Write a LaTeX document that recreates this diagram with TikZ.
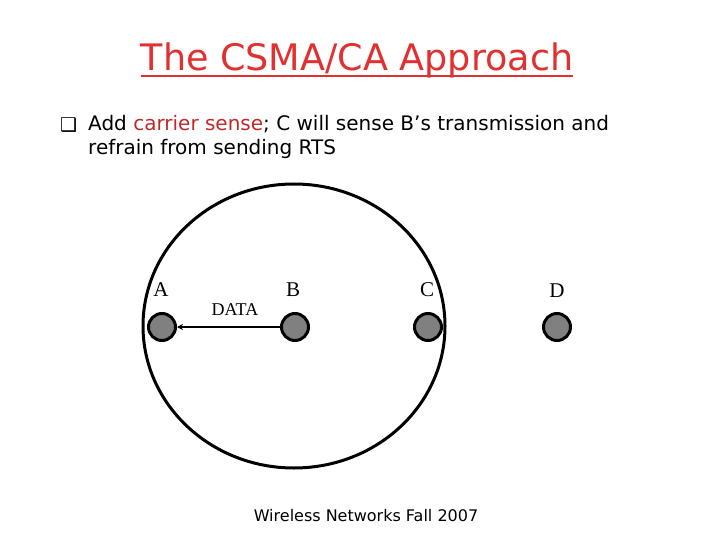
\documentclass[tikz,border=0pt]{standalone}
\usepackage{fontspec}
\setmainfont{DejaVu Sans}
\newfontfamily\serifface{Liberation Serif}
\usetikzlibrary{arrows.meta,shapes.geometric}
\definecolor{titlered}{RGB}{226,48,48}
\definecolor{nodegray}{RGB}{128,128,128}
\tikzset{
  station/.style={circle,draw=black,line width=3pt,fill=nodegray,minimum size=27pt,inner sep=0pt},
  lbl/.style={font=\serifface\fontsize{21}{21}\selectfont,inner sep=0pt},
}
\begin{document}
\begin{tikzpicture}[x=1pt,y=-1pt]
\useasboundingbox (0,0) rectangle (720,540);
\node[font=\fontsize{36.5}{36.5}\selectfont,text=titlered,inner sep=0pt,anchor=base] (title) at (357,71) {The CSMA/CA Approach};
\draw[titlered,line width=1.8pt] ([yshift=-5pt]title.base west) -- ([yshift=-5pt]title.base east);
\node[anchor=base west,inner sep=0pt,font=\fontsize{19}{19}\selectfont] (bul) at (60,132) {❑};
\node[anchor=base west,inner sep=0pt,font=\fontsize{20}{20}\selectfont] (l1) at (88,131) {Add \textcolor{titlered!85!black}{carrier sense}; C will sense B’s transmission and};
\node[anchor=base west,inner sep=0pt,font=\fontsize{20}{20}\selectfont] (l2) at (88,155) {refrain from sending RTS};
\node[draw=black,line width=3pt,ellipse,minimum width=302pt,minimum height=284pt,inner sep=0pt] (range) at (294,326) {};
\node[station] (A) at (162,327) {};
\node[station] (B) at (295,327) {};
\node[station] (C) at (428,327) {};
\node[station] (D) at (557,327) {};
\node[lbl] (la) at (161,290) {A};
\node[lbl] (lb) at (293,290) {B};
\node[lbl] (lc) at (427,290) {C};
\node[lbl] (ld) at (557,291) {D};
\node[inner sep=0pt,font=\serifface\fontsize{18}{18}\selectfont] (data) at (235,310) {DATA};
\draw[line width=2.5pt,-{Stealth[length=6pt,width=6pt]}] (B) -- (A);
\node[inner sep=0pt,font=\fontsize{16}{16}\selectfont] (foot) at (366,516) {Wireless Networks Fall 2007};
\end{tikzpicture}
\end{document}
